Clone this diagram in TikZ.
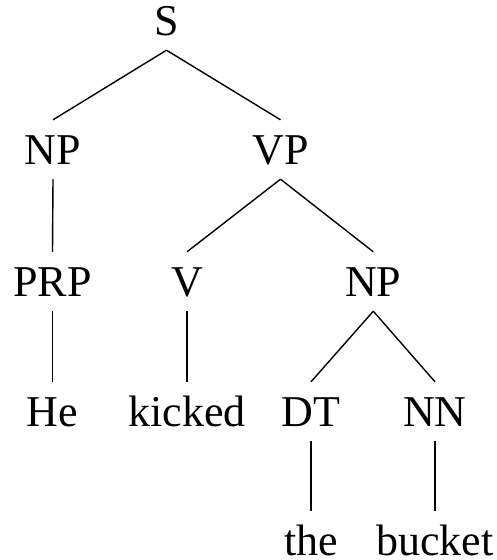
\documentclass[tikz,border=0pt]{standalone}
\usepackage{fontspec}
\setmainfont{Liberation Serif}
\begin{document}
\begin{tikzpicture}[x=1pt,y=-1pt,
  cat/.style={anchor=base,inner xsep=0pt,inner ysep=15pt,
    text height=29pt,text depth=0pt,
    font=\fontsize{44}{50}\selectfont},
  edge/.style={draw=black,line width=1.4pt}]
\useasboundingbox (0,0) rectangle (497,560);
% phrase and word nodes, placed on their baselines
\node[cat] (s)      at (166.5,35)  {S};
\node[cat] (np1)    at (53,164)    {NP};
\node[cat] (vp)     at (280.5,164) {VP};
\node[cat] (prp)    at (52.5,296)  {PRP};
\node[cat] (v)      at (187,296)   {V};
\node[cat] (np2)    at (373.3,296) {NP};
\node[cat] (he)     at (52.5,426)  {He};
\node[cat] (kicked) at (187,426)   {kicked};
\node[cat] (dt)     at (311,426)   {DT};
\node[cat] (nn)     at (435,426)   {NN};
\node[cat] (the)    at (311,555)   {the};
\node[cat] (bucket) at (435,555)   {bucket};
% tree branches
\foreach \p/\c in {s/np1,s/vp,np1/prp,vp/v,vp/np2,prp/he,v/kicked,
                   np2/dt,np2/nn,dt/the,nn/bucket}
  \draw[edge] (\p.south) -- (\c.north);
\end{tikzpicture}
\end{document}
